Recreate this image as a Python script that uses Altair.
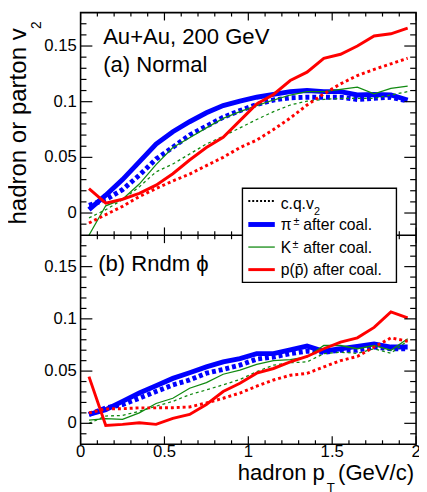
import altair as alt
import pandas as pd

# ---------------- data ----------------
pt = [0.05, 0.15, 0.25, 0.35, 0.45, 0.55, 0.65, 0.75, 0.85, 0.95,
      1.05, 1.15, 1.25, 1.35, 1.45, 1.55, 1.65, 1.75, 1.85, 1.95]

# panel (a) Normal
a_pi_coal = [0.003, 0.016, 0.030, 0.046, 0.062, 0.073, 0.082, 0.090, 0.0965, 0.1005,
             0.104, 0.1065, 0.109, 0.110, 0.109, 0.109, 0.106, 0.1065, 0.106, 0.1015]
a_pi_cq = [0.007, 0.012, 0.021, 0.034, 0.0485, 0.059, 0.070, 0.078, 0.086, 0.092,
           0.0975, 0.1015, 0.1035, 0.104, 0.104, 0.104, 0.102, 0.103, 0.104, 0.1005]
a_k_coal = [-0.024, 0.0065, 0.0124, 0.026, 0.0435, 0.0588, 0.0676, 0.0765, 0.085, 0.091,
            0.0965, 0.1015, 0.106, 0.109, 0.109, 0.111, 0.113, 0.107, 0.112, 0.114]
a_k_cq = [-0.0044, 0.003, 0.012, 0.0235, 0.037, 0.044, 0.053, 0.062, 0.069, 0.0765,
          0.084, 0.091, 0.097, 0.1005, 0.102, 0.103, 0.103, 0.103, 0.106, 0.109]
a_p_coal = [0.022, 0.0088, 0.0124, 0.0176, 0.025, 0.0353, 0.0476, 0.0588, 0.068, 0.083,
            0.098, 0.1065, 0.119, 0.1265, 0.139, 0.1426, 0.150, 0.159, 0.161, 0.166]
a_p_cq = [-0.009, -0.0015, 0.006, 0.0147, 0.022, 0.0288, 0.035, 0.0426, 0.050, 0.0588,
          0.0655, 0.075, 0.0853, 0.097, 0.107, 0.116, 0.1235, 0.129, 0.134, 0.139]

# panel (b) Rndm phi
b_pi_coal = [0.0085, 0.013, 0.021, 0.029, 0.036, 0.043, 0.0484, 0.054, 0.0588, 0.062,
             0.0667, 0.0667, 0.0704, 0.0739, 0.069, 0.0714, 0.0736, 0.076, 0.073, 0.073]
b_pi_cq = [0.0085, 0.0148, 0.018, 0.024, 0.0305, 0.0368, 0.0415, 0.048, 0.0516, 0.0557,
           0.0615, 0.0635, 0.0667, 0.069, 0.068, 0.070, 0.070, 0.073, 0.0714, 0.0714]
b_k_coal = [0.003, 0.0044, 0.0038, 0.010, 0.019, 0.024, 0.0336, 0.039, 0.047, 0.051,
            0.0565, 0.060, 0.061, 0.0635, 0.0745, 0.0745, 0.0714, 0.0745, 0.070, 0.081]
b_k_cq = [0.0, 0.007, 0.0075, 0.0116, 0.0164, 0.021, 0.0274, 0.032, 0.0368, 0.042,
          0.0495, 0.0557, 0.058, 0.0588, 0.0667, 0.068, 0.067, 0.0714, 0.067, 0.079]
b_p_coal = [0.0447, -0.002, -0.001, 0.0006, -0.001, 0.0047, 0.0085, 0.018, 0.0305, 0.0384,
            0.048, 0.0525, 0.0588, 0.064, 0.0714, 0.0777, 0.0818, 0.0918, 0.1066, 0.101]
b_p_cq = [0.010, 0.0138, 0.014, 0.0148, 0.0148, 0.015, 0.0157, 0.0195, 0.024, 0.029,
          0.0355, 0.0415, 0.046, 0.0478, 0.054, 0.060, 0.064, 0.073, 0.0818, 0.0786]

x_major = [0, 0.5, 1, 1.5, 2]
x_minor = [0.1, 0.2, 0.3, 0.4, 0.6, 0.7, 0.8, 0.9, 1.1, 1.2, 1.3, 1.4, 1.6, 1.7, 1.8, 1.9]
y_major = [0, 0.05, 0.1, 0.15]
y_minor = [-0.01, 0.01, 0.02, 0.03, 0.04, 0.06, 0.07, 0.08, 0.09,
           0.11, 0.12, 0.13, 0.14, 0.16, 0.17]

# ---------------- layout / style ----------------
W, H = 342, 440
YS = 227
FONT = "Liberation Sans"
BLUE, RED, GREEN = "#0000ff", "#ff0000", "#118a11"

xs = alt.Scale(domain=[0, 2], nice=False, zero=False)


def yscale(panel):
    rng = [YS, 0] if panel == "a" else [H, YS]
    return alt.Scale(domain=[-0.02, 0.18], range=rng, nice=False, zero=False, clamp=True)


one = pd.DataFrame({"d": [0]})
layers = []


def series(vals, panel, color, width, dash=None):
    kw = dict(color=color, strokeWidth=width, clip=True)
    if dash:
        kw["strokeDash"] = dash
    df = pd.DataFrame({"pt": pt, "v": vals})
    return alt.Chart(df).mark_line(**kw).encode(
        x=alt.X("pt:Q", scale=xs, axis=None),
        y=alt.Y("v:Q", scale=yscale(panel), axis=None),
    )


for p, vals in (("a", (a_pi_coal, a_pi_cq, a_k_coal, a_k_cq, a_p_cq, a_p_coal)),
                ("b", (b_pi_coal, b_pi_cq, b_k_coal, b_k_cq, b_p_cq, b_p_coal))):
    pic, picq, kc, kcq, pcq, pc = vals
    layers.append(series(pic, p, BLUE, 5))
    layers.append(series(picq, p, BLUE, 5, [4, 3]))
    layers.append(series(kc, p, GREEN, 1.3))
    layers.append(series(kcq, p, GREEN, 1.3, [3, 3]))
    layers.append(series(pcq, p, RED, 3, [3, 3]))
    layers.append(series(pc, p, RED, 3))


# ticks (inward, on all sides of both panels)
def yticks(vals, panel, length):
    df = pd.DataFrame({"t": vals})
    base = alt.Chart(df).mark_rule(color="black", strokeWidth=1.2)
    y = alt.Y("t:Q", scale=yscale(panel), axis=None)
    return [base.encode(y=y, x=alt.value(0), x2=alt.value(length)),
            base.encode(y=y, x=alt.value(W - length), x2=alt.value(W))]


def xticks(vals, ypix, length):
    df = pd.DataFrame({"t": vals})
    return [alt.Chart(df).mark_rule(color="black", strokeWidth=1.2).encode(
        x=alt.X("t:Q", scale=xs, axis=None), y=alt.value(ypix), y2=alt.value(ypix + length))]


for p in ("a", "b"):
    layers += yticks(y_major, p, 12)
    layers += yticks(y_minor, p, 6)
layers += xticks(x_major, 0, 8) + xticks(x_minor, 0, 4)
layers += xticks(x_major, YS, -8) + xticks(x_minor, YS, -4)
layers += xticks(x_major, YS, 8) + xticks(x_minor, YS, 4)
layers += xticks(x_major, H, -8) + xticks(x_minor, H, -4)

# frame
layers.append(alt.Chart(one).mark_rect(fill="transparent", stroke="black", strokeWidth=1.6).encode(
    x=alt.value(0), x2=alt.value(W), y=alt.value(0), y2=alt.value(H)))
layers.append(alt.Chart(one).mark_rule(color="black", strokeWidth=1.6).encode(
    x=alt.value(0), x2=alt.value(W), y=alt.value(YS)))

# tick labels
for p in ("a", "b"):
    layers.append(alt.Chart(pd.DataFrame({"t": y_major})).mark_text(
        align="right", baseline="middle", fontSize=17, font=FONT, color="black").encode(
        y=alt.Y("t:Q", scale=yscale(p), axis=None), x=alt.value(-4),
        text=alt.Text("t:Q", format="~g")))
layers.append(alt.Chart(pd.DataFrame({"t": x_major})).mark_text(
    align="center", baseline="top", fontSize=17, font=FONT, color="black").encode(
    x=alt.X("t:Q", scale=xs, axis=None), y=alt.value(440),
    text=alt.Text("t:Q", format="~g")))


def txt(s, x, y, size, align="left", angle=0):
    kw = dict(text=s, align=align, baseline="alphabetic", fontSize=size, font=FONT, color="black")
    if angle:
        kw["angle"] = angle
    return alt.Chart(one).mark_text(**kw).encode(x=alt.value(x), y=alt.value(y))


def rule(x1, x2, y, color, width, dash=None):
    kw = dict(color=color, strokeWidth=width)
    if dash:
        kw["strokeDash"] = dash
    return alt.Chart(one).mark_rule(**kw).encode(x=alt.value(x1), x2=alt.value(x2), y=alt.value(y))


# axis titles
layers.append(txt("hadron or parton v", -56, 16, 24.5, align="right", angle=270))
layers.append(txt("2", -40, 9, 14, align="right", angle=270))
layers.append(txt("hadron p", 249, 476, 22.5, align="right"))
layers.append(txt("T", 251, 489, 13.5))
layers.append(txt("(GeV/c)", 340, 476, 22.5, align="right"))

# panel labels
layers.append(txt("Au+Au, 200 GeV", 23, 32, 22.5))
layers.append(txt("(a) Normal", 23, 61, 22.5))
layers.append(txt("(b) Rndm \u03d5", 18, 263, 22.5))

# legend
layers.append(alt.Chart(one).mark_rect(fill="white", stroke="black", strokeWidth=1.4).encode(
    x=alt.value(165), x2=alt.value(322), y=alt.value(179), y2=alt.value(275)))
layers.append(rule(171, 198, 192, "black", 2, [2, 2]))
layers.append(rule(171, 198, 216, BLUE, 5))
layers.append(rule(171, 198, 239, GREEN, 1.3))
layers.append(rule(171, 198, 262, RED, 3))
layers.append(txt("c.q.v", 204, 200, 16))
layers.append(txt("2", 238, 206, 11))
layers.append(txt("\u03c0", 204, 222, 16))
layers.append(txt("\u00b1", 217, 217, 11))
layers.append(txt("after coal.", 227, 222, 16))
layers.append(txt("K", 204, 245, 16))
layers.append(txt("\u00b1", 216, 240, 11))
layers.append(txt("after coal.", 227, 245, 16))
layers.append(txt("p(p\u0304) after coal.", 204, 267, 16))

chart = alt.layer(*layers).resolve_scale(y="independent").properties(
    width=W, height=H,
    autosize=alt.AutoSizeParams(type="none"),
    padding={"left": 74, "top": 0, "right": 3, "bottom": 44},
).configure_view(strokeWidth=0)

chart.save("out.html", embed_options={"renderer": "svg", "actions": False})
